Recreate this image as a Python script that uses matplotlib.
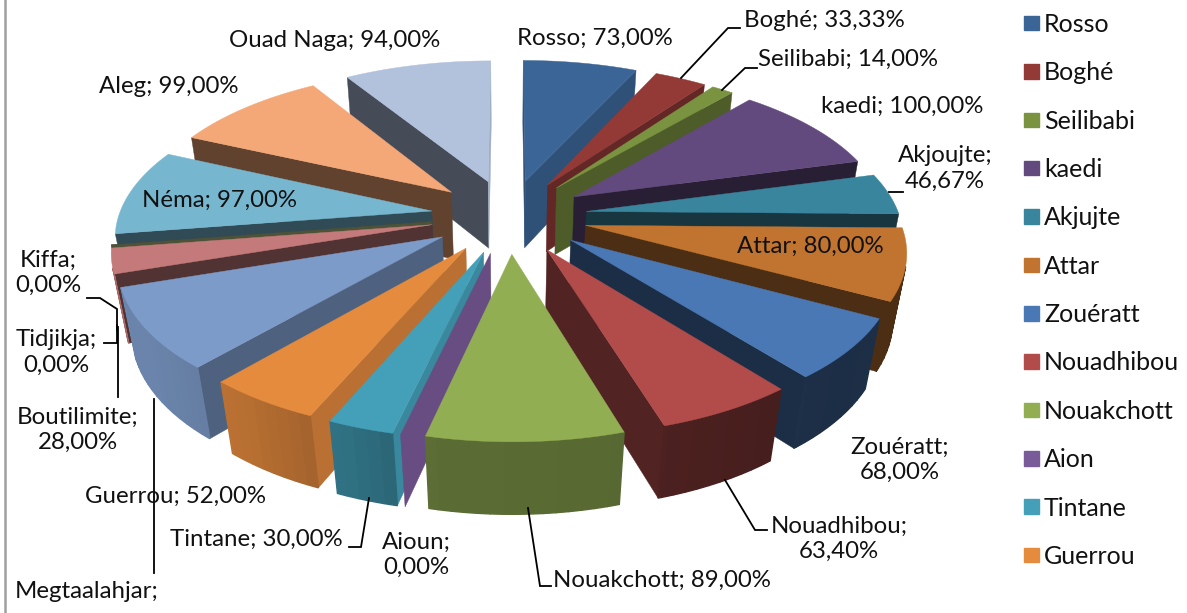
import numpy as np
import matplotlib
matplotlib.use("Agg")
import matplotlib.pyplot as plt
from matplotlib.colors import to_rgb
from matplotlib.patches import Patch

plt.rcParams["font.family"] = ["Lato", "DejaVu Sans"]

# Data
categories = ["Rosso", "Boghé", "Seilibabi", "kaedi", "Akjujte", "Attar", "Zouératt",
              "Nouadhibou", "Nouakchott", "Aion", "Tintane", "Guerrou", "Megtaalahjar",
              "Boutilimite", "Tidjikja", "Kiffa", "Néma", "Aleg", "Ouad Naga"]
values = [73, 33.33, 14, 100, 46.67, 80, 68, 63.4, 89, 0, 30, 52, 90, 28, 0, 0, 97, 99, 94]
colors = ["#3b6596", "#933a37", "#7a9340", "#624a7e", "#39859d", "#c07430", "#4a78b4",
          "#b14c4a", "#92ae53", "#7a5b9a", "#44a0b9", "#e58b3e", "#7d9bc9",
          "#c47a7a", "#b5ca88", "#a090bd", "#77b6cf", "#f5a877", "#b2c1dc"]
n_legend = 12

labels = [
    ("Rosso; 73,00%", 517, 38.5, "left"),
    ("Boghé; 33,33%", 744, 20.5, "left"),
    ("Seilibabi; 14,00%", 758, 59.5, "left"),
    ("kaedi; 100,00%", 821, 106.5, "left"),
    ("Akjoujte;\n46,67%", 945, 168.5, "center"),
    ("Attar; 80,00%", 737, 246.5, "left"),
    ("Zouératt;\n68,00%", 900, 459.5, "center"),
    ("Nouadhibou;\n63,40%", 839, 538.5, "center"),
    ("Nouakchott; 89,00%", 553, 580.5, "left"),
    ("Aioun;\n0,00%", 416, 554.5, "center"),
    ("Tintane; 30,00%", 170, 539.5, "left"),
    ("Guerrou; 52,00%", 85, 496.5, "left"),
    ("Boutilimite;\n28,00%", 78, 429.5, "center"),
    ("Tidjikja;\n0,00%", 56, 352.5, "center"),
    ("Kiffa;\n0,00%", 48, 272.5, "center"),
    ("Néma; 97,00%", 142, 200.5, "left"),
    ("Aleg; 99,00%", 99, 86.5, "left"),
    ("Ouad Naga; 94,00%", 229, 40.5, "left"),
    ("Megtaalahjar;", 15, 591, "left"),
]
leaders = [
    ([740, 728, 681], [28, 28, 78]),
    ([757, 745, 722], [68, 68, 90]),
    ([903, 889], [192, 192]),
    ([767, 755, 725], [530, 530, 480]),
    ([551, 540, 528], [586, 586, 508]),
    ([349, 361, 369], [547, 547, 498]),
    ([87, 100, 117, 117], [298, 298, 309, 330]),
    ([104, 117, 117], [343, 343, 325]),
    ([118, 118], [397, 327]),
    ([154, 154], [573, 399]),
]

# Pie geometry in pixels
cx, cy = 509, 216
R, A, H = 313, 147.7, 70
persp, persp_z = 0.146, 0.036
explode = 0.25


def project(x, y, z=0.0):
    s = 1 / (1 + persp * y + persp_z * z)
    return cx + R * x * s, cy - A * y * s + H * z * s


def facing(p):
    xs, ys = np.array(p[0]), np.array(p[1])
    return np.sum(xs * np.roll(ys, -1) - np.roll(xs, -1) * ys) < 0


def shade(c, f):
    return tuple(v * f for v in to_rgb(c))


def radial_factor(normal):
    return np.interp(normal % 360, [90, 115, 128, 160, 230, 251, 270],
                     [.9, .8, .65, .42, .38, .42, .8])


def rim_factor(theta):
    return np.interp(theta, [0, 110, 130, 162.6, 162.85, 190, 200, 215, 235, 360],
                     [.5, .4, .38, .43, .6, .62, .7, .8, .85, .85])


fig = plt.figure(figsize=(11.87, 6.13), dpi=100)
ax = fig.add_axes([0, 0, 1, 1])
ax.set_xlim(0, 1187)
ax.set_ylim(613, 0)
ax.axis("off")

ax.plot([5, 5], [0, 613], color="#a0a0a0", lw=1.8)

total = sum(values)
edges = np.cumsum([0] + values) / total * 360
mids = (edges[:-1] + edges[1:]) / 2
order = np.argsort(-np.cos(np.radians(mids)))

for i in order:
    t0, t1, tm = edges[i], edges[i + 1], np.radians(mids[i])
    c = colors[i]
    ax0, ay0 = explode * np.sin(tm), explode * np.cos(tm)
    th = np.radians(np.linspace(t0, t1, max(2, int(t1 - t0) * 2)))
    rx, ry = ax0 + np.sin(th), ay0 + np.cos(th)

    # radial walls
    for x_end, y_end, t, sign in [(rx[0], ry[0], t0, 1), (rx[-1], ry[-1], t1, -1)]:
        corners = [(ax0, ay0, 0), (x_end, y_end, 0), (x_end, y_end, 1), (ax0, ay0, 1)]
        px, py = zip(*[project(*k) for k in corners])
        poly = (px, py) if sign == 1 else (px[::-1], py[::-1])
        if facing(poly):
            col = shade(c, radial_factor(t - 90 if sign == 1 else t + 90))
            ax.fill(px, py, color=col, lw=0.3)

    if t1 == t0:
        continue

    # outer wall, piece by piece for the shading
    step = 4
    for j in range(0, len(th) - 1, step):
        k = min(j + step, len(th) - 1)
        top_x, top_y = rx[j:k + 1], ry[j:k + 1]
        p_top = project(top_x, top_y)
        p_bot = project(top_x[::-1], top_y[::-1], 1.0)
        px, py = np.r_[p_top[0], p_bot[0]], np.r_[p_top[1], p_bot[1]]
        if facing((px, py)):
            col = shade(c, rim_factor(np.degrees(th[j])))
            ax.fill(px, py, color=col, lw=1.0)

    # top face
    tx, ty = project(np.r_[ax0, rx], np.r_[ay0, ry])
    ax.fill(tx, ty, color=c, lw=0.3)

for xs, ys in leaders:
    ax.plot(xs, ys, color="black", lw=1.3, solid_joinstyle="miter")

for text, x, y, ha in labels:
    ax.text(x, y, text, ha=ha, va="center", fontsize=17.3, color="#111111",
            linespacing=1.25, multialignment="center")

handles = [Patch(color=colors[i]) for i in range(n_legend)]
ax.legend(handles, categories[:n_legend], loc="upper left", bbox_to_anchor=(1024 / 1187, 1 - 13 / 613),
          bbox_transform=fig.transFigure, frameon=False, fontsize=18, handlelength=0.6,
          handleheight=0.52, handletextpad=0.2, labelspacing=1.014, borderpad=0, borderaxespad=0,
          labelcolor="#111111")

fig.savefig("out.png", dpi=100)
